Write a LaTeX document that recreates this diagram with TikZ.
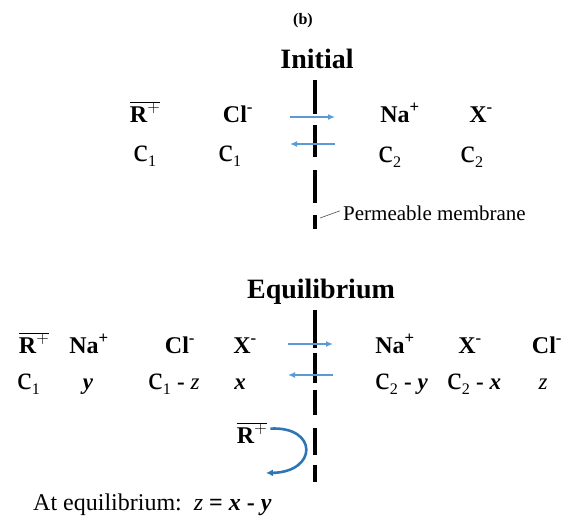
\documentclass[tikz,border=0pt]{standalone}
\usepackage{fontspec}
\setmainfont{Liberation Serif}
\usetikzlibrary{arrows.meta, positioning, calc}
\definecolor{colFlux}{HTML}{5B9BD5}
\definecolor{colTurn}{HTML}{2E75B6}
\newcommand{\Rbar}{$\overline{\mbox{\textbf{R}$^{+}$}}$}
\newcommand{\cc}[1]{{\fontsize{33}{34}\selectfont c}\raisebox{-2pt}{\textsubscript{#1}}}
\newcommand{\vx}{\textbf{\textit{x}}}
\newcommand{\vy}{\textbf{\textit{y}}}
\newcommand{\vz}{\textit{z}}

\begin{document}
\begin{tikzpicture}[
    x=1pt, y=-1pt,
    >=Stealth,
    title/.style={font=\fontsize{28}{30}\selectfont\bfseries, anchor=base, inner sep=0pt},
    ion/.style={font=\fontsize{24}{26}\selectfont\bfseries, anchor=base, inner sep=0pt},
    conc/.style={font=\fontsize{23}{25}\selectfont, anchor=base, inner sep=0pt},
    note/.style={font=\fontsize{21}{23}\selectfont, anchor=base west, inner sep=0pt},
    membrane/.style={line width=3.5pt, black},
    flux/.style={->, line width=1.8pt, color=colFlux, >={Latex[length=7pt, width=6pt]}}
]
    \useasboundingbox (0,0) rectangle (566,522);

    % --- INITIAL STATE ---
    \node[font=\fontsize{16}{18}\selectfont\bfseries, inner sep=0pt] (tag) at (303,21) {(b)};
    \node[title] (initial) at (317,68) {Initial};

    \node[ion] (iR)  at (145,122) {\Rbar};
    \node[ion] (iCl) at (238,122) {Cl\textsuperscript{-}};
    \node[ion] (iNa) at (400,122) {Na\textsuperscript{+}};
    \node[ion] (iX)  at (481,122) {X\textsuperscript{-}};

    \node[conc] (ic1a) at (145,161) {\cc{1}};
    \node[conc] (ic1b) at (230,161) {\cc{1}};
    \node[conc] (ic2a) at (390,162) {\cc{2}};
    \node[conc] (ic2b) at (472,162) {\cc{2}};

    % membrane, cut in dashes
    \foreach \ya/\yb in {80/114, 125/157, 170/203, 215/229}
        \draw[membrane] (315,\ya) -- (315,\yb);

    \coordinate (iInL) at (290,117);
    \coordinate (iInR) at (335,117);
    \coordinate (iOutR) at (335,144);
    \coordinate (iOutL) at (290,144);
    \draw[flux] (iInL) -- (iInR);
    \draw[flux] (iOutR) -- (iOutL);

    \node[note] (perm) at (343,220) {Permeable membrane};
    \coordinate (permFoot) at (320,218);
    \draw[line width=0.6pt, black!70] (permFoot) -- ($(perm.west)+(-3,-2)$);

    % --- EQUILIBRIUM STATE ---
    \node[title] (equil) at (321,298) {Equilibrium};

    \foreach \name/\xx/\txt in {
        eR/34/{\Rbar},
        eNaL/89/{Na\textsuperscript{+}},
        eClL/180/{Cl\textsuperscript{-}},
        eXL/245/{X\textsuperscript{-}},
        eNaR/395/{Na\textsuperscript{+}},
        eXR/470/{X\textsuperscript{-}},
        eClR/547/{Cl\textsuperscript{-}}
    } {
        \node[ion] (\name) at (\xx,353) {\txt};
    }

    \node[conc, anchor=base west] (ec1) at (17,389) {\cc{1}};
    \node[conc] (ey) at (88,389) {\vy};
    \node[conc, anchor=base west] (ec1z) at (148,389) {\cc{1} \textbf{-} \vz};
    \node[conc] (ex) at (240,389) {\vx};
    \node[conc, anchor=base west] (ec2y) at (375,389) {\cc{2} \textbf{-} \vy};
    \node[conc, anchor=base west] (ec2x) at (447,389) {\cc{2} \textbf{-} \vx};
    \node[conc] (ez) at (543,389) {\vz};

    \foreach \ya/\yb in {310/348, 353/383, 390/415, 428/455, 465/482}
        \draw[membrane] (315,\ya) -- (315,\yb);

    \coordinate (eInL) at (288,344);
    \coordinate (eInR) at (333,344);
    \coordinate (eOutR) at (333,375);
    \coordinate (eOutL) at (288,375);
    \draw[flux] (eInL) -- (eInR);
    \draw[flux] (eOutR) -- (eOutL);

    % fixed ion turned back at the membrane
    \node[ion] (eRback) at (252,443) {\Rbar};
    \draw[->, line width=2.6pt, color=colTurn, >={Latex[length=7pt, width=7pt]}]
        ($(eRback.east)+(3,-4)$) .. controls (318,426) and (318,472) .. (266,473);

    \node[note, font=\fontsize{24}{26}\selectfont] (rule) at (33,510)
        {At equilibrium:\ \ \vz\ \textbf{=} \vx\ \textbf{-} \vy};

\end{tikzpicture}
\end{document}
